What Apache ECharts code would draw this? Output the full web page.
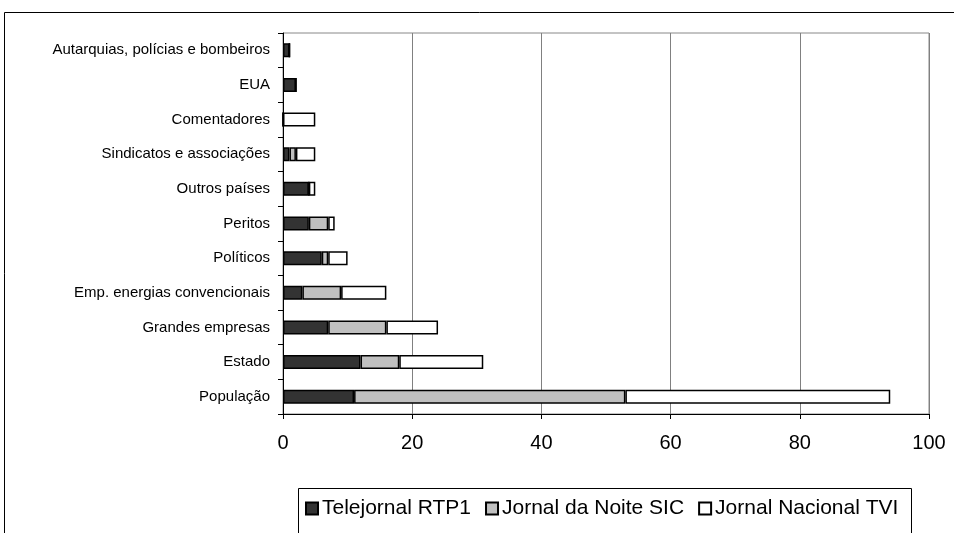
<!DOCTYPE html>
<html><head><meta charset="utf-8">
<script src="https://cdn.jsdelivr.net/npm/echarts@6/dist/echarts.min.js"></script>
<style>html,body{margin:0;padding:0;background:#fff}#c{width:954px;height:533px}</style>
</head><body><div id="c"></div>
<script>
const categories = ["Autarquias, polícias e bombeiros","EUA","Comentadores","Sindicatos e associações","Outros países","Peritos","Políticos","Emp. energias convencionais","Grandes empresas","Estado","População"];
const rtp1 = [1,2,0,1,4,4,6,3,7,12,11];
const sic  = [0,0,0,1,0,3,1,6,9,6,42];
const tvi  = [0,0,5,3,1,1,3,7,8,13,41];
const seriesNames = ["Telejornal RTP1","Jornal da Noite SIC","Jornal Nacional TVI"];
const xTicks = [0,20,40,60,80,100];

const font = "'Liberation Sans', Arial, sans-serif";
const colors = ["#333333","#c0c0c0","#ffffff"];
const chart = echarts.init(document.getElementById('c'), null, {renderer:'canvas'});
const mk = (name, data, i) => ({
  name, type:'bar', stack:'s', data, barWidth:14,
  itemStyle:{color:colors[i], borderColor:'#000', borderWidth:1.5},
  emphasis:{disabled:true}
});
chart.setOption({
  animation:false,
  textStyle:{fontFamily:font},
  graphic:[
    {type:'rect', shape:{x:4.5,y:12.5,width:1000,height:600}, style:{fill:'none',stroke:'#000',lineWidth:1}, z:-10},
    {type:'rect', shape:{x:298.5,y:488.5,width:613,height:60}, style:{fill:'none',stroke:'#000',lineWidth:1}, z:-10}
  ],
  grid:{left:283, right:25, top:33, bottom:119, show:true, borderColor:'#888', borderWidth:1, backgroundColor:'transparent'},
  xAxis:{type:'value', min:xTicks[0], max:xTicks[xTicks.length-1], interval:20,
    axisLine:{show:true, lineStyle:{color:'#000', width:1}},
    axisTick:{show:true, length:5, lineStyle:{color:'#000'}},
    axisLabel:{fontSize:20, color:'#000', margin:19, fontFamily:font},
    splitLine:{show:true, lineStyle:{color:'#808080', width:1}}},
  yAxis:{type:'category', data:categories, inverse:true,
    axisLine:{show:true, lineStyle:{color:'#000', width:1}},
    axisTick:{show:true, length:5, lineStyle:{color:'#000'}},
    axisLabel:{fontSize:15, color:'#000', margin:13, fontFamily:font},
    splitLine:{show:false}},
  legend:{left:300, top:498, itemWidth:12, itemHeight:12, itemGap:14,
    icon:'rect', padding:[0,0,0,5],
    textStyle:{fontSize:21, color:'#000', fontFamily:font, padding:[0,0,0,-1]},
    data:seriesNames},
  series:[mk(seriesNames[0], rtp1, 0), mk(seriesNames[1], sic, 1), mk(seriesNames[2], tvi, 2)]
});
</script></body></html>
